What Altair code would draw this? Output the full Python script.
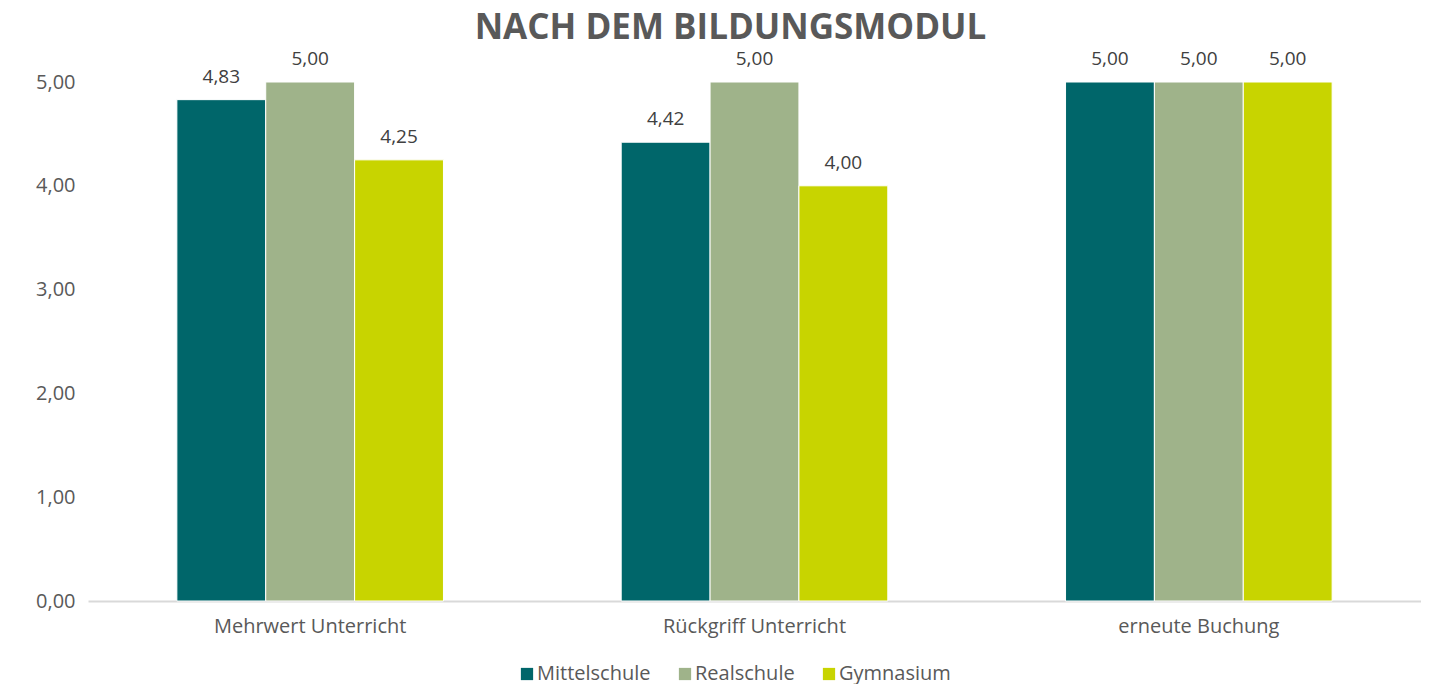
import altair as alt
import pandas as pd

categories = ["Mehrwert Unterricht", "Rückgriff Unterricht", "erneute Buchung"]
series = ["Mittelschule", "Realschule", "Gymnasium"]
mittelschule = [4.83, 4.42, 5.00]
realschule = [5.00, 5.00, 5.00]
gymnasium = [4.25, 4.00, 5.00]
colors = ["#00666A", "#9FB38A", "#C8D400"]
y_ticks = [0, 1, 2, 3, 4, 5]

rows = []
for s, vals in zip(series, [mittelschule, realschule, gymnasium]):
    for c, v in zip(categories, vals):
        rows.append({"Kategorie": c, "Schule": s, "Wert": v})
df = pd.DataFrame(rows)

FONT = "Open Sans"
TXT = "#595959"

base = alt.Chart(df).transform_calculate(
    label="replace(format(datum.Wert, '.2f'), '.', ',')"
).encode(
    x=alt.X(
        "Kategorie:N",
        sort=categories,
        title=None,
        scale=alt.Scale(paddingInner=0.4, paddingOuter=0.2),
        axis=alt.Axis(
            labelAngle=0,
            labelFontSize=20,
            labelColor=TXT,
            labelFont=FONT,
            labelPadding=15,
            labelLimit=0,
            ticks=False,
            tickSize=0,
            domainColor="#D9D9D9",
            domainWidth=2,
        ),
    ),
    xOffset=alt.XOffset("Schule:N", sort=series),
    y=alt.Y(
        "Wert:Q",
        title=None,
        scale=alt.Scale(domain=[0, 5], nice=False),
        axis=alt.Axis(
            values=y_ticks,
            labelExpr="replace(format(datum.value, '.2f'), '.', ',')",
            labelFontSize=20,
            labelColor=TXT,
            labelFont=FONT,
            labelPadding=13,
            labelAlign="right",
            ticks=False,
            tickSize=0,
            domain=False,
            grid=False,
        ),
    ),
)

bars = base.mark_bar(stroke="white", strokeWidth=1).encode(
    color=alt.Color(
        "Schule:N",
        sort=series,
        scale=alt.Scale(domain=series, range=colors),
        legend=alt.Legend(
            title=None,
            orient="none",
            direction="horizontal",
            legendX=429,
            legendY=582,
            symbolType="square",
            symbolSize=150,
            symbolStrokeWidth=0,
            labelFontSize=20,
            labelColor=TXT,
            labelFont=FONT,
            labelOffset=0,
            columnPadding=24,
            padding=0,
        ),
    )
)

labels = base.mark_text(
    baseline="alphabetic", dy=-17, fontSize=19, color="#404040", font=FONT
).encode(text="label:N")

chart = (
    alt.layer(bars, labels)
    .properties(
        width=1333,
        height=519,
        title=alt.TitleParams(
            "NACH DEM BILDUNGSMODUL",
            fontSize=35,
            fontWeight="bold",
            color=TXT,
            font=FONT,
            anchor="middle",
            offset=4,
            dx=-24,
        ),
        padding={"left": 27, "top": 3, "right": 0, "bottom": 0},
    )
    .configure_view(stroke=None)
)

chart.save("out.html", embed_options={"renderer": "svg", "actions": False})
